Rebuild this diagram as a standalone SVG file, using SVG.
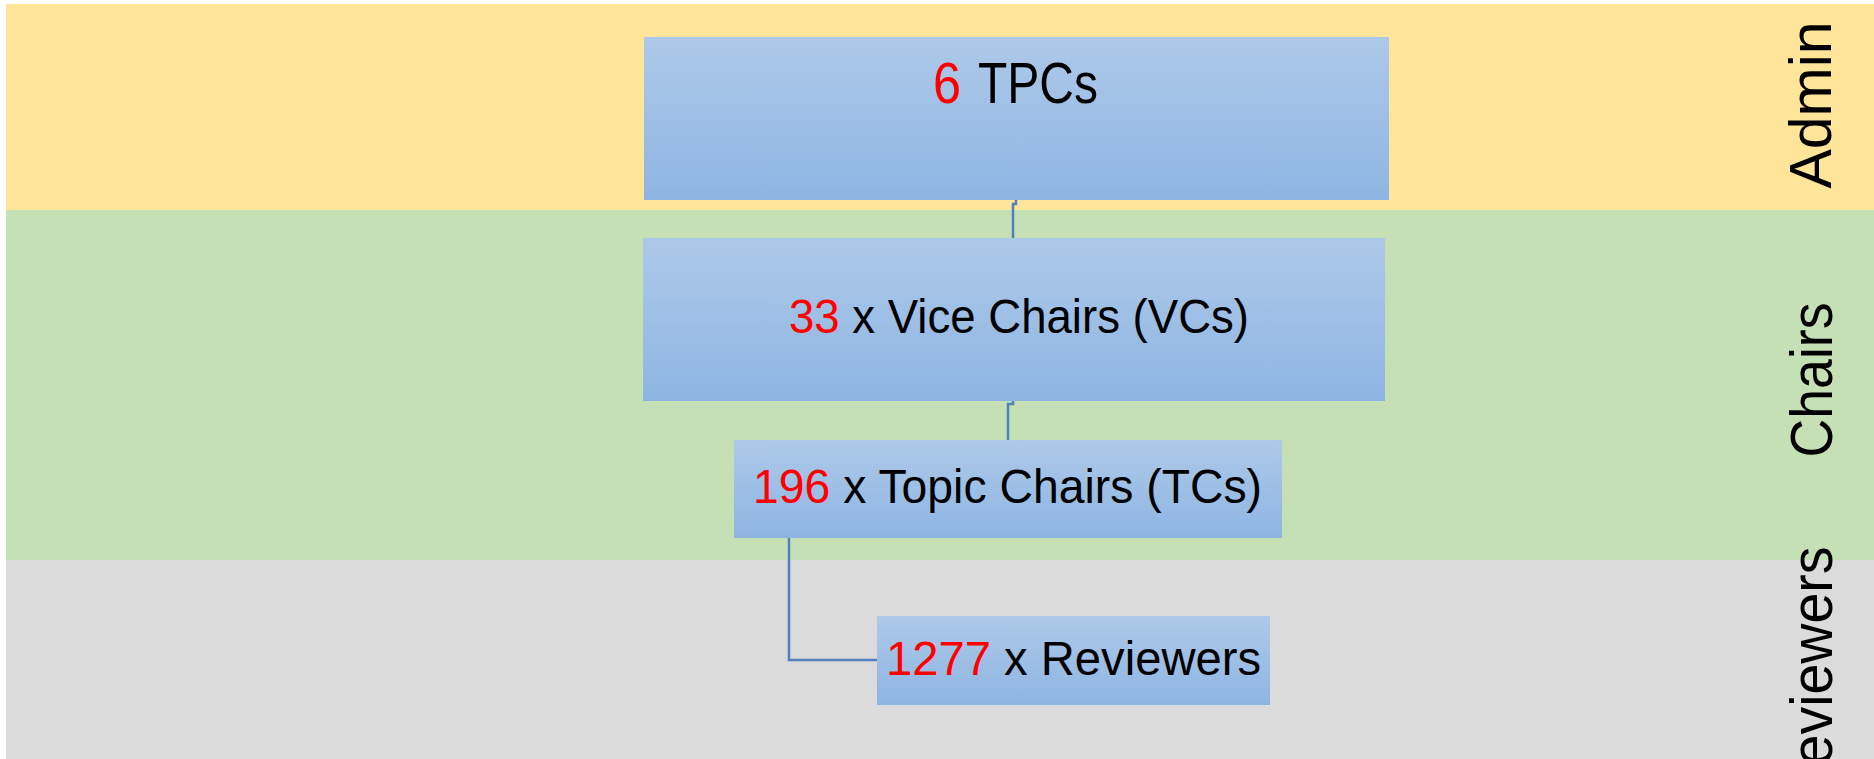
<svg xmlns="http://www.w3.org/2000/svg" width="1874" height="759" viewBox="0 0 1874 759">
<style>
.lbl{font-family:"Liberation Sans",Arial,sans-serif;fill:#000}
.num{fill:#ff0000}
.conn{fill:none;stroke:#4f81bd;stroke-width:2.5}
.box{fill:url(#g)}
</style>
<defs>
<linearGradient id="g" x1="0" y1="0" x2="0" y2="1">
<stop offset="0" stop-color="#adc9e9"/>
<stop offset="1" stop-color="#8eb5e2"/>
</linearGradient>
</defs>
<rect x="0" y="0" width="1874" height="759" fill="#ffffff"/>
<g id="lanes">
<rect x="6" y="4" width="1868" height="206" fill="#ffe599"/>
<rect x="6" y="210" width="1868" height="350" fill="#c5e0b4"/>
<rect x="6" y="560" width="1868" height="199" fill="#dbdbdb"/>
<text class="lbl" font-size="59" text-anchor="middle" textLength="167" lengthAdjust="spacingAndGlyphs" transform="translate(1831,105) rotate(-90)">Admin</text>
<text class="lbl" font-size="59" text-anchor="middle" textLength="155" lengthAdjust="spacingAndGlyphs" transform="translate(1832,380) rotate(-90)">Chairs</text>
<text class="lbl" font-size="59" text-anchor="middle" textLength="259" lengthAdjust="spacingAndGlyphs" transform="translate(1832,676) rotate(-90)">Reviewers</text>
</g>
<g id="connectors">
<path class="conn" d="M1016,200 V204 H1013 V238"/>
<path class="conn" d="M1013,401 V404 H1008 V440"/>
<path class="conn" d="M789,538 V660 H877"/>
</g>
<g id="tpc">
<rect class="box" x="644" y="37" width="745" height="163"/>
<text class="lbl num" x="933" y="103" font-size="57" textLength="28" lengthAdjust="spacingAndGlyphs">6</text>
<text class="lbl" x="978" y="103" font-size="57" textLength="120" lengthAdjust="spacingAndGlyphs">TPCs</text>
</g>
<g id="vc">
<rect class="box" x="643" y="238" width="742" height="163"/>
<text class="lbl" x="789" y="333" font-size="48" textLength="460" lengthAdjust="spacingAndGlyphs"><tspan class="num">33</tspan> x Vice Chairs (VCs)</text>
</g>
<g id="tc">
<rect class="box" x="734" y="440" width="548" height="98"/>
<text class="lbl" x="753" y="503" font-size="48" textLength="509" lengthAdjust="spacingAndGlyphs"><tspan class="num">196</tspan> x Topic Chairs (TCs)</text>
</g>
<g id="reviewers">
<rect class="box" x="877" y="616" width="393" height="89"/>
<text class="lbl" x="886" y="675" font-size="48" textLength="375" lengthAdjust="spacingAndGlyphs"><tspan class="num">1277</tspan> x Reviewers</text>
</g>
</svg>
